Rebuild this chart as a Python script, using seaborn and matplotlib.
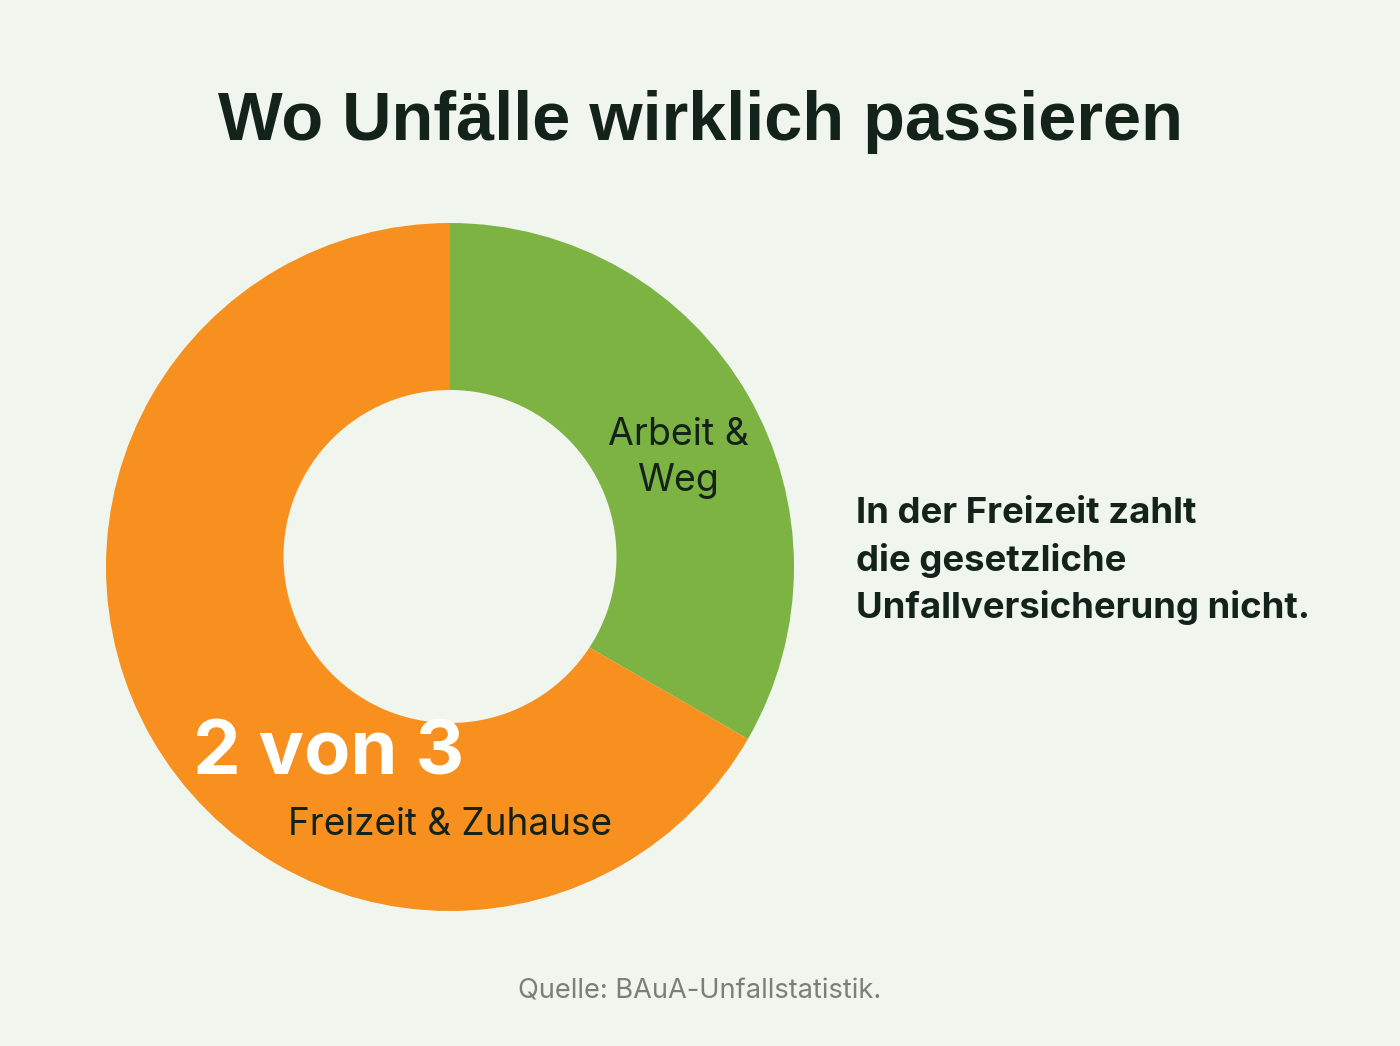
import matplotlib
matplotlib.use("Agg")
import matplotlib.pyplot as plt
from matplotlib.patches import Circle
import seaborn as sns

# data
categories = ["Arbeit &\nWeg", "Freizeit & Zuhause"]
shares = [1, 2]          # 1 von 3 / 2 von 3
colors = ["#7CB342", "#F7901E"]

title = "Wo Unfälle wirklich passieren"
headline = "2 von 3"
note = "In der Freizeit zahlt\ndie gesetzliche\nUnfallversicherung nicht."
source = "Quelle: BAuA-Unfallstatistik."

BG = "#F0F6EE"
DARK = "#14231A"

sns.set_theme(style="white")
plt.rcParams['font.family'] = ['Inter', 'DejaVu Sans']

W, H = 1400, 1046
fig = plt.figure(figsize=(W / 100, H / 100), dpi=100)
fig.patch.set_facecolor(BG)

# donut axes: outer center (450, 567) px, radius 344 px
cx, cy, r = 450, 567, 344
ax = fig.add_axes([(cx - r) / W, (H - cy - r) / H, 2 * r / W, 2 * r / H])
ax.set_facecolor(BG)
ax.pie(shares, colors=colors, startangle=90, counterclock=False, radius=1,
       wedgeprops=dict(linewidth=0))
# hole sits slightly above the outer center in the original
ax.add_patch(Circle((0, 10.5 / r), 166.5 / r, facecolor=BG, edgecolor="none", zorder=3))
ax.set_xlim(-1, 1)
ax.set_ylim(-1, 1)
ax.set_aspect("equal")
ax.axis("off")

def px(x, y):
    return x / W, 1 - y / H

fig.text(*px(700, 122), title, ha="center", va="center", fontsize=49.3,
         fontweight="bold", family=["Liberation Sans", "DejaVu Sans"], color=DARK)

fig.text(*px(678, 458), categories[0], ha="center", va="center", fontsize=27,
         color=DARK, linespacing=1.38)
fig.text(*px(450, 825), categories[1], ha="center", va="center", fontsize=26.6,
         color=DARK)
fig.text(*px(193, 755), headline, ha="left", va="center", fontsize=54.5,
         fontweight="bold", color="white")

fig.text(*px(856, 561), note, ha="left", va="center", fontsize=26.3,
         fontweight="bold", color=DARK, linespacing=1.46)

fig.text(*px(700, 992), source, ha="center", va="center", fontsize=19.6,
         color="#7A7F7A")

fig.savefig("out.png", dpi=100, facecolor=BG)
